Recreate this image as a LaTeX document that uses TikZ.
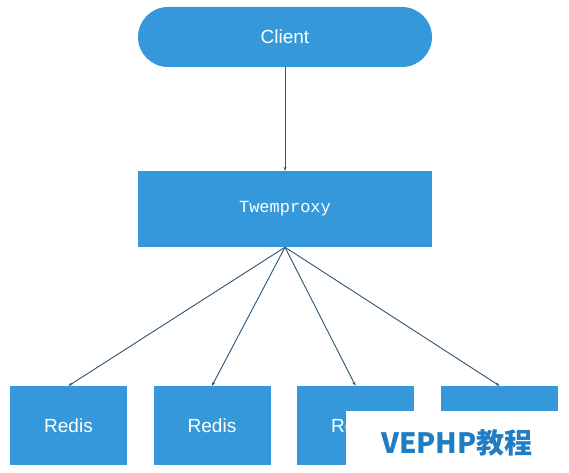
\documentclass[tikz,border=0pt]{standalone}
\usepackage{fontspec}
\setmainfont{Liberation Sans}
\newfontfamily\monof{Liberation Mono}
\newfontfamily\cjkf{Noto Sans CJK SC}
\usetikzlibrary{arrows.meta}
\definecolor{boxblue}{RGB}{53,152,219}
\definecolor{linec}{RGB}{45,85,115}
\definecolor{wmblue}{RGB}{30,125,195}
\tikzset{
  x=1pt,y=1pt,
  blue box/.style={draw=none,fill=boxblue,text=white,inner sep=0pt,font=\fontsize{19}{21}\selectfont},
  conn/.style={draw=linec,line width=0.9pt,-{Stealth[length=4pt,width=3pt]}}
}
\begin{document}
\begin{tikzpicture}
\useasboundingbox (0,0) rectangle (569,472);
\fill[white] (0,0) rectangle (569,472);
\node[blue box,minimum width=294pt,minimum height=60pt,rounded corners=30pt] (client) at (285,435) {Client};
\node[blue box,minimum width=294pt,minimum height=76pt,font=\monof\fontsize{17}{20}\selectfont] (tw) at (285,263) {Twemproxy};
\node[blue box,minimum width=117pt,minimum height=79pt] (r1) at (68.5,46.5) {Redis};
\node[blue box,minimum width=117pt,minimum height=79pt] (r2) at (212,46.5) {Redis};
\node[blue box,minimum width=117pt,minimum height=79pt] (r3) at (355.5,46.5) {Redis};
\node[blue box,minimum width=117pt,minimum height=79pt] (r4) at (499.5,46.5) {};
\draw[conn] (client.south) -- (tw.north);
\draw[conn] (tw.south) -- (r1.north);
\draw[conn] (tw.south) -- (r2.north);
\draw[conn] (tw.south) -- (r3.north);
\draw[conn] (tw.south) -- (r4.north);
\fill[white] (346,0) rectangle (569,61);
\node[text=wmblue,font=\cjkf\bfseries\fontsize{28}{30}\selectfont,inner sep=0pt] (wm) at (457,29) {VEPHP教程};
\end{tikzpicture}
\end{document}
